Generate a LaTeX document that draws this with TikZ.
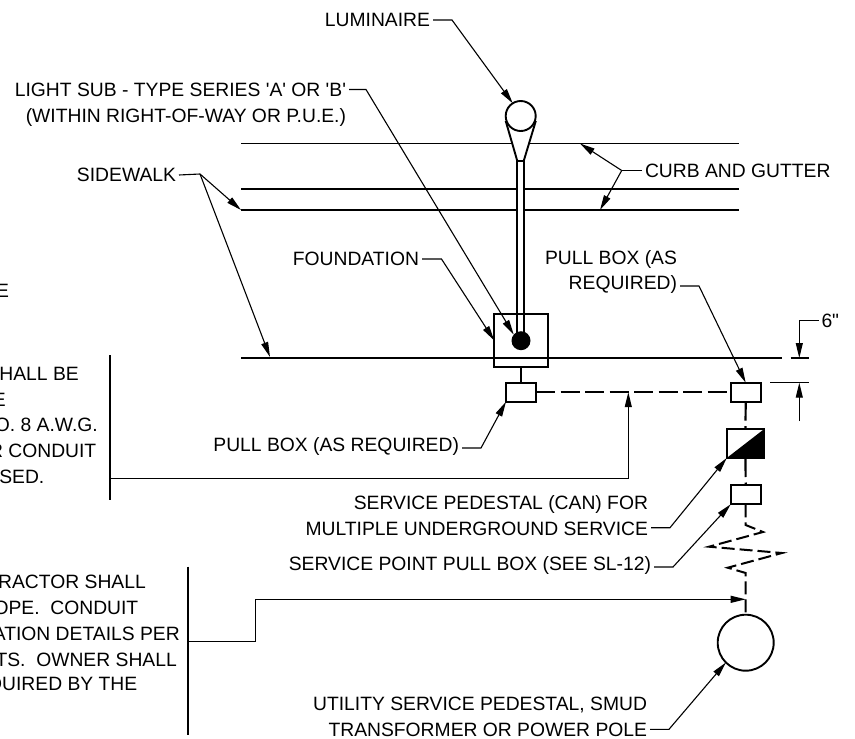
\documentclass[tikz,border=0pt]{standalone}
\usepackage{fontspec}
\setmainfont{Liberation Sans}[Ligatures=TeXOff]
\usetikzlibrary{arrows.meta}
\tikzset{
    lbl/.style={inner sep=0pt, outer sep=3pt, anchor=east, align=right, font=\fontsize{19.3}{25.8}\selectfont},
    cut/.style={inner sep=0pt, anchor=east, font=\fontsize{19.3}{25.8}\selectfont},
    leader/.style={line width=1.1pt, -{Triangle[length=15pt,width=7pt]}},
    plain/.style={line width=1.1pt},
    road/.style={line width=1.7pt},
    sym/.style={line width=1.9pt},
    run/.style={line width=2.2pt, dash pattern=on 19pt off 5.5pt},
    pbox/.style={draw, line width=1.9pt, rectangle, minimum width=30pt, minimum height=19pt, inner sep=0pt, outer sep=0pt},
}
\begin{document}
\begin{tikzpicture}[x=1pt,y=-1pt]
    \useasboundingbox (0,0) rectangle (855,739);

    \draw[road] (241,143.5)--(739,143.5);
    \draw[road, line width=2pt] (241,189)--(739,189);
    \draw[road] (241,210)--(739,210);
    \draw[road, line width=2.4pt] (241,358)--(782,358);

    \draw[sym, fill=white] (506,122)--(517.3,161)--(523.7,161)--(535.5,122)--cycle;
    \draw[sym, fill=white] (517.3,161) rectangle (523.7,340);
    \node[draw, sym, circle, fill=white, minimum size=30pt, inner sep=0pt, outer sep=0pt] (lamp) at (520.7,116) {};
    \node[draw, sym, rectangle, minimum width=53.5pt, minimum height=53.5pt, inner sep=0pt, outer sep=0pt] (fdn) at (521,340.5) {};
    \node[circle, fill=black, minimum size=19pt, inner sep=0pt, outer sep=0pt] (dot) at (521,340.7) {};

    \node[pbox] (boxA) at (521,392.2) {};
    \node[pbox] (boxB) at (745.7,392.2) {};
    \node[draw, sym, rectangle, minimum width=37.5pt, minimum height=29pt, inner sep=0pt, outer sep=0pt] (can) at (745.5,443.5) {};
    \fill (can.south west)--(can.north east)--(can.south east)--cycle;
    \node[pbox] (boxC) at (745.7,494.8) {};
    \node[draw, sym, circle, minimum size=56pt, inner sep=0pt, outer sep=0pt] (pole) at (745.7,642.7) {};

    \draw[sym] (fdn.south)--(boxA.north);
    \draw[run] (boxA.east)--(boxB.west);
    \draw[run] (boxB.south)--(can.north);
    \draw[run] (can.south)--(boxC.north);
    \draw[line width=2pt, dash pattern=on 13pt off 5pt] (boxC.south)--(745.7,525)--(763,532)--(709,546.7)--(782,553)--(727.7,567.7)--(745.7,573)--(pole.north);

    \node[lbl] (luminaire) at (433,20) {LUMINAIRE};
    \node[lbl] (lightsub) at (349,105) {LIGHT SUB - TYPE SERIES 'A' OR 'B'\\(WITHIN RIGHT-OF-WAY OR P.U.E.)};
    \node[lbl] (sidewalk) at (179,175) {SIDEWALK};
    \node[lbl] (foundation) at (422,259) {FOUNDATION};
    \node[lbl] (pullreq) at (680,272) {PULL BOX (AS\\REQUIRED)};
    \node[lbl] (pulla) at (462,447) {PULL BOX (AS REQUIRED)};
    \node[lbl] (canlbl) at (651,515.5) {SERVICE PEDESTAL (CAN) FOR\\MULTIPLE UNDERGROUND SERVICE};
    \node[lbl] (pointlbl) at (654,565.5) {SERVICE POINT PULL BOX (SEE SL-12)};
    \node[lbl] (utility) at (650,716.5) {UTILITY SERVICE PEDESTAL, SMUD\\TRANSFORMER OR POWER POLE};
    \node[lbl, anchor=west] (curb) at (642,170.5) {CURB AND GUTTER};
    \node[lbl, anchor=west] (six) at (818.5,320.5) {6"};

    \node[cut] (noteA) at (9.3,290.5) {E};
    \node[cut] (noteB) at (79,373.5) {HALL BE};
    \node[cut] (noteC) at (6,399.5) {E};
    \node[cut] (noteD) at (98,425) {O. 8 A.W.G.};
    \node[cut] (noteE) at (96.5,450.5) {R CONDUIT};
    \node[cut] (noteF) at (44.5,476.5) {SED.};
    \node[cut] (noteG) at (146,582) {RACTOR SHALL};
    \node[cut] (noteH) at (138.5,608) {OPE.\ \ CONDUIT};
    \node[cut] (noteI) at (180,634) {ATION DETAILS PER};
    \node[cut] (noteJ) at (177,660) {TS.\ \ OWNER SHALL};
    \node[cut] (noteK) at (137.5,686) {QUIRED BY THE};

    \coordinate (swelbow) at (200,174);
    \coordinate (curbelbow) at (621.7,170.5);
    \coordinate (barA) at (110,478.3);
    \coordinate (barB) at (188,641.7);
    \coordinate (runmid) at (628.3,392.2);
    \coordinate (feed) at (745.7,599.3);

    \draw[leader] (luminaire.east)--++(19,0)--(lamp.122);
    \draw[leader] ([yshift=15.5pt]lightsub.east)--++(17,0)--(dot.140);
    \draw[plain] (sidewalk.east)--(swelbow);
    \draw[leader] (swelbow)--(241,210);
    \draw[leader] (swelbow)--(270,357);
    \draw[leader] (foundation.east)--++(19.5,0)--(fdn.west);
    \draw[leader] ([yshift=-14pt]pullreq.east)--++(19,0)--(boxB.north);
    \draw[leader] ([yshift=-1pt]pulla.east)--++(19,0)--(boxA.south west);
    \draw[leader] ([yshift=-12.2pt]canlbl.east)--++(19,0)--(can.south west);
    \draw[leader] ([yshift=-1.5pt]pointlbl.east)--++(19,0)--(boxC.south west);
    \draw[leader] ([yshift=-12.8pt]utility.east)--++(19,0)--(pole.225);
    \draw[plain] (curb.west)--(curbelbow);
    \draw[leader] (curbelbow)--(580,143.5);
    \draw[leader] (curbelbow)--(600,210);

    \draw[plain] (110,355)--(110,500);
    \draw[plain] (188,566.7)--(188,735);
    \draw[leader] (barA)-|(runmid);
    \draw[leader] (barB)-|(255.3,599.3)--(feed);

    \draw[leader] (six.west)-|(799.3,358);
    \draw[plain] (790.7,358)--(809,358);
    \draw[plain] (770,382.7)--(809,382.7);
    \draw[leader] (799.3,421)--(799.3,382.7);
\end{tikzpicture}
\end{document}
